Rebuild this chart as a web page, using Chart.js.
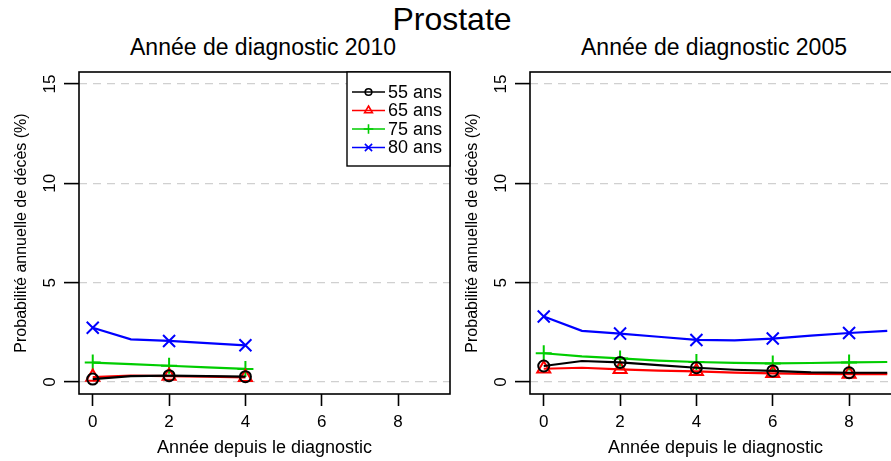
<!DOCTYPE html>
<html lang="fr">
<head>
<meta charset="utf-8">
<script src="https://cdn.jsdelivr.net/npm/chart.js@4/dist/chart.umd.min.js"></script>
<style>
  html, body { margin: 0; padding: 0; background: #fff; }
  body { width: 891px; height: 461px; overflow: hidden; position: relative; font-family: 'Liberation Sans', Arial, sans-serif; }
  canvas { position: absolute; top: 0; }
  .ttl { position: absolute; color: #000; white-space: nowrap; line-height: 1; transform: translateX(-50%); }
</style>
</head>
<body>
<div class="ttl" style="left:452px; top:3px; font-size:32px;">Prostate</div>
<div class="ttl" style="left:263px; top:36px; font-size:23px;">Année de diagnostic 2010</div>
<div class="ttl" style="left:714px; top:36px; font-size:23px;">Année de diagnostic 2005</div>
<canvas id="chart2010" width="471" height="461" style="left:0px"></canvas>
<canvas id="chart2005" width="471" height="461" style="left:451px"></canvas>
<script>
// années depuis le diagnostic
const years2010 = [0, 1, 2, 3, 4];
const years2005 = [0, 1, 2, 3, 4, 5, 6, 7, 8, 9];

// probabilité annuelle de décès (%) - diagnostic 2010
const age55_2010 = [0.15, 0.30, 0.32, 0.30, 0.27];
const age65_2010 = [0.25, 0.32, 0.30, 0.27, 0.24];
const age75_2010 = [0.98, 0.90, 0.82, 0.74, 0.66];
const age80_2010 = [2.73, 2.15, 2.07, 1.96, 1.85];

// probabilité annuelle de décès (%) - diagnostic 2005
const age55_2005 = [0.81, 1.06, 0.99, 0.85, 0.72, 0.62, 0.56, 0.49, 0.47, 0.47];
const age65_2005 = [0.67, 0.72, 0.64, 0.58, 0.54, 0.48, 0.44, 0.41, 0.40, 0.40];
const age75_2005 = [1.45, 1.29, 1.19, 1.08, 1.01, 0.97, 0.94, 0.96, 0.99, 1.01];
const age80_2005 = [3.30, 2.58, 2.44, 2.28, 2.12, 2.10, 2.19, 2.34, 2.47, 2.58];

const seriesLabels = ['55 ans', '65 ans', '75 ans', '80 ans'];
const xTicks = [0, 2, 4, 6, 8];
const yTicks = [0, 5, 10, 15];

const FONT = "'Liberation Sans', Arial, sans-serif";
const styles = [
    { color: '#000000', point: 'circle', radius: 5.5 },
    { color: '#ff0000', point: 'triangle', radius: 7.5 },
    { color: '#00cd00', point: 'cross', radius: 8 },
    { color: '#0000ff', point: 'crossRot', radius: 8.5 }
];

function makeDatasets(years, seriesList) {
    return seriesList.map((values, i) => {
        const st = styles[i];
        return {
            label: seriesLabels[i],
            data: years.map((yr, k) => ({ x: yr, y: values[k] })),
            borderColor: st.color,
            backgroundColor: 'rgba(0,0,0,0)',
            borderWidth: 2.2,
            tension: 0,
            pointStyle: st.point,
            pointRadius: years.map(yr => (yr % 2 === 0 ? st.radius : 0)),
            pointBorderColor: st.color,
            pointBackgroundColor: 'rgba(0,0,0,0)',
            pointBorderWidth: 2
        };
    });
}

// cadre noir autour de la zone du graphique (style R)
const boxPlugin = {
    id: 'rBox',
    afterDatasetsDraw(chart) {
        const { ctx, chartArea: a } = chart;
        ctx.save();
        ctx.strokeStyle = '#000';
        ctx.lineWidth = 1.6;
        ctx.strokeRect(a.left, a.top, a.right - a.left, a.bottom - a.top);
        ctx.restore();
    }
};

// légende encadrée dans le coin supérieur droit
const boxLegend = {
    id: 'boxLegend',
    afterDraw(chart, args, opts) {
        if (!opts.show) return;
        const { ctx, chartArea: a } = chart;
        const w = 103, h = 94;
        const x0 = a.right - w, y0 = a.top;
        ctx.save();
        ctx.fillStyle = '#fff';
        ctx.fillRect(x0, y0, w, h);
        ctx.strokeStyle = '#000';
        ctx.lineWidth = 1.4;
        ctx.strokeRect(x0, y0, w, h);
        ctx.font = '18px ' + FONT;
        ctx.textBaseline = 'middle';
        chart.data.datasets.forEach((ds, i) => {
            const y = y0 + 20 + i * 18.5;
            ctx.strokeStyle = ds.borderColor;
            ctx.lineWidth = 1.6;
            ctx.beginPath();
            ctx.moveTo(x0 + 5, y);
            ctx.lineTo(x0 + 38, y);
            ctx.stroke();
            ctx.fillStyle = 'rgba(0,0,0,0)';
            Chart.helpers.drawPoint(ctx, {
                pointStyle: ds.pointStyle,
                radius: styles[i].radius * 0.6,
                rotation: 0,
                borderWidth: 1.6
            }, x0 + 21.5, y);
            ctx.fillStyle = '#000';
            ctx.fillText(ds.label, x0 + 41, y + 1);
        });
        ctx.restore();
    }
};

function makeChart(id, years, seriesList, showLegend) {
    return new Chart(document.getElementById(id), {
        type: 'line',
        data: { datasets: makeDatasets(years, seriesList) },
        plugins: [boxPlugin, boxLegend],
        options: {
            responsive: false,
            animation: false,
            layout: { padding: { top: 72, right: 21, left: 0, bottom: 0 } },
            plugins: {
                legend: { display: false },
                tooltip: { enabled: false },
                title: { display: false },
                boxLegend: { show: showLegend }
            },
            scales: {
                x: {
                    type: 'linear',
                    min: -0.36,
                    max: 9.36,
                    afterBuildTicks: axis => { axis.ticks = xTicks.map(v => ({ value: v })); },
                    afterFit: axis => { axis.height = 67; },
                    grid: { display: true, drawOnChartArea: false, drawTicks: true, tickLength: 12, tickColor: '#000', tickWidth: 1.6 },
                    border: { display: false },
                    ticks: { color: '#000', font: { family: FONT, size: 17 }, padding: 6, maxRotation: 0, autoSkip: false },
                    title: { display: true, text: 'Année depuis le diagnostic', color: '#000', font: { family: FONT, size: 18 }, padding: { top: 0, bottom: 2 } }
                },
                y: {
                    type: 'linear',
                    min: -0.6,
                    max: 15.6,
                    afterBuildTicks: axis => { axis.ticks = yTicks.map(v => ({ value: v })); },
                    afterFit: axis => { axis.width = 79; },
                    grid: { display: true, drawOnChartArea: true, color: '#d0d0d0', lineWidth: 1.2, drawTicks: true, tickLength: 15, tickColor: '#000', tickWidth: 1.6 },
                    border: { display: false, dash: [8, 6] },
                    ticks: { color: '#000', font: { family: FONT, size: 17 }, padding: 4, minRotation: 90, maxRotation: 90, crossAlign: 'center', autoSkip: false },
                    title: { display: true, text: 'Probabilité annuelle de décès (%)', color: '#000', font: { family: FONT, size: 16 }, padding: { top: 12, bottom: 0 } }
                }
            }
        }
    });
}

makeChart('chart2010', years2010, [age55_2010, age65_2010, age75_2010, age80_2010], true);
makeChart('chart2005', years2005, [age55_2005, age65_2005, age75_2005, age80_2005], false);
</script>
</body>
</html>
